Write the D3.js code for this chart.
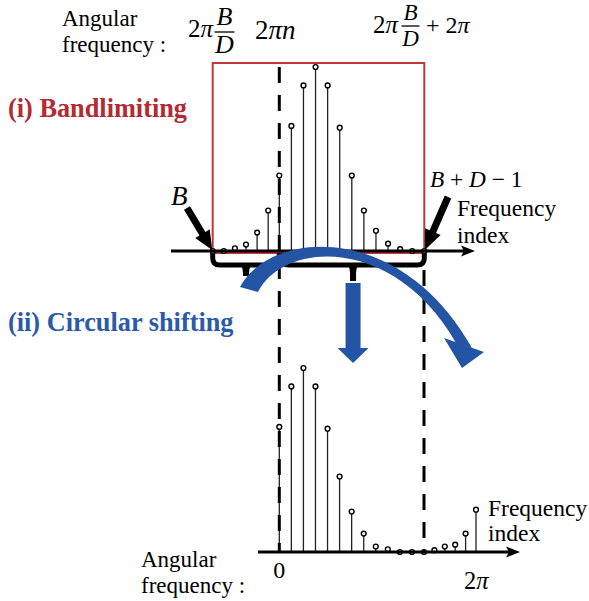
<!DOCTYPE html>
<html>
<head>
<meta charset="utf-8">
<script src="https://cdn.jsdelivr.net/npm/d3@7/dist/d3.min.js"></script>
<style>
    body { margin: 0; background: #fff; }
    svg { display: block; }
</style>
</head>
<body>
<svg id="shift-vis"></svg>
<script>
// spectrum before shifting (frequency index B .. B+D-1), relative amplitude
const TOP_VALUES = [0, 0, 1.5, 3.5, 10, 22, 41, 68, 90, 100, 90, 67, 41, 22, 11, 4, 1, 0, 0];
// spectrum after circular shifting
const BOTTOM_VALUES = [68, 90, 100, 90, 67, 41, 22, 10, 3, 1.5, 0, 0, 0, 1, 3, 4, 10, 23];
// index of the sample that sits at 2*pi*n (top) and at 2*pi (bottom)
const TOP_MARK_INDEX = 6;
const BOTTOM_MARK_INDEX = 12;
const BOTTOM_TICK_LABELS = ['0', '2π'];

const WIDTH = 589;
const HEIGHT = 601;
const FONT = '"Liberation Serif", "Times New Roman", serif';
const RED = '#c1373d';
const RED_TEXT = '#b42a30';
const BLUE = '#2455a4';
const BLUE_TEXT = '#2b5aa8';

const TOP_AXIS_Y = 251;
const BOTTOM_AXIS_Y = 552;

const root = d3.select('#shift-vis')
    .attr('width', WIDTH)
    .attr('height', HEIGHT)
    .attr('viewBox', `0 0 ${WIDTH} ${HEIGHT}`);

const xTop = d3.scaleLinear()
    .domain([0, TOP_MARK_INDEX, TOP_VALUES.length - 1])
    .range([212.7, 279.3, 424.3]);
const xBottom = d3.scaleLinear()
    .domain([0, BOTTOM_MARK_INDEX, BOTTOM_VALUES.length - 1])
    .range([279.3, 424, 476]);
const yAmp = d3.scaleLinear().domain([0, 100]).range([0, 184]);

function attrs(sel, obj) {
    Object.keys(obj).forEach(k => sel.attr(k, obj[k]));
    return sel;
}

function text(str, x, y, opts) {
    opts = opts || {};
    return attrs(root.append('text').text(str), {
        x: x,
        y: y,
        'font-family': FONT,
        'font-size': opts.size || 23,
        'font-style': opts.italic ? 'italic' : 'normal',
        'font-weight': opts.bold ? 'bold' : 'normal',
        'text-anchor': opts.anchor || 'start',
        fill: opts.fill || '#000'
    });
}

function arrowPoints(x1, y1, x2, y2, shaftW, headL, headW) {
    const dx = x2 - x1, dy = y2 - y1;
    const len = Math.hypot(dx, dy);
    const ux = dx / len, uy = dy / len;
    const nx = -uy, ny = ux;
    const bx = x2 - ux * headL, by = y2 - uy * headL;
    return [
        [x1 + nx * shaftW / 2, y1 + ny * shaftW / 2],
        [bx + nx * shaftW / 2, by + ny * shaftW / 2],
        [bx + nx * headW / 2, by + ny * headW / 2],
        [x2, y2],
        [bx - nx * headW / 2, by - ny * headW / 2],
        [bx - nx * shaftW / 2, by - ny * shaftW / 2],
        [x1 - nx * shaftW / 2, y1 - ny * shaftW / 2]
    ].map(p => p.join(',')).join(' ');
}

drawBandBox();
drawStems(TOP_VALUES, xTop, TOP_AXIS_Y);
drawStems(BOTTOM_VALUES, xBottom, BOTTOM_AXIS_Y);
drawAxes();
drawDashed();
drawBrackets();
drawLabels();
drawBlueArrows();

function drawBandBox() {
    attrs(root.append('rect'), {
        x: xTop(0),
        y: 63,
        width: xTop(TOP_VALUES.length - 1) - xTop(0),
        height: TOP_AXIS_Y + 2 - 63,
        fill: 'none',
        stroke: RED,
        'stroke-width': 2
    });
}

function drawStems(values, x, axisY) {
    const g = root.append('g');
    values.forEach((v, i) => {
        attrs(g.append('line'), {
            x1: x(i), x2: x(i),
            y1: axisY, y2: axisY - yAmp(v),
            stroke: '#222',
            'stroke-width': 1.3
        });
    });
    values.forEach((v, i) => {
        attrs(g.append('circle'), {
            cx: x(i),
            cy: axisY - yAmp(v),
            r: 2.4,
            fill: '#fff',
            stroke: '#000',
            'stroke-width': 1.4
        });
    });
}

function drawAxes() {
    [[171, 475, TOP_AXIS_Y], [258, 520, BOTTOM_AXIS_Y]].forEach(([x0, x1, y]) => {
        attrs(root.append('line'), {
            x1: x0, x2: x1 - 10, y1: y, y2: y,
            stroke: '#000', 'stroke-width': 3
        });
        attrs(root.append('polygon'), {
            points: `${x1},${y} ${x1 - 14},${y - 5.5} ${x1 - 11},${y} ${x1 - 14},${y + 5.5}`,
            fill: '#000'
        });
    });
}

function drawDashed() {
    const xl = xTop(TOP_MARK_INDEX);
    const xr = xBottom(BOTTOM_MARK_INDEX);
    [[xl, 67, BOTTOM_AXIS_Y], [xr, 270, BOTTOM_AXIS_Y]].forEach(([x, y0, y1]) => {
        attrs(root.append('line'), {
            x1: x, x2: x, y1: y0, y2: y1,
            stroke: '#000',
            'stroke-width': 3,
            'stroke-dasharray': '16,12'
        });
    });
}

function drawBrackets() {
    const r = 7;
    const yMid = 265;
    const yEnd = 253;
    const spans = [
        [xTop(0), xTop(TOP_MARK_INDEX), 276],
        [xTop(TOP_MARK_INDEX) + 2.5, xTop(TOP_VALUES.length - 1), 281]
    ];
    spans.forEach(([x0, x1, tickY]) => {
        const xc = (x0 + x1) / 2;
        attrs(root.append('path'), {
            d: `M${x0},${yEnd} L${x0},${yMid - r} Q${x0},${yMid} ${x0 + r},${yMid}` +
               ` L${x1 - r},${yMid} Q${x1},${yMid} ${x1},${yMid - r} L${x1},${yEnd}`,
            fill: 'none',
            stroke: '#000',
            'stroke-width': 5
        });
        attrs(root.append('path'), {
            d: `M${xc - 5},${yMid} Q${xc - 3},${yMid + 4} ${xc - 3},${yMid + 8} L${xc - 3},${tickY}` +
               ` L${xc + 3},${tickY} L${xc + 3},${yMid + 8} Q${xc + 3},${yMid + 4} ${xc + 5},${yMid} Z`,
            fill: '#000'
        });
    });
    // pointers to B and B+D-1
    attrs(root.append('polygon'), {
        points: arrowPoints(187, 208, xTop(0) - 0.5, TOP_AXIS_Y - 1, 7, 19, 17),
        fill: '#000'
    });
    attrs(root.append('polygon'), {
        points: arrowPoints(448, 197, xTop(TOP_VALUES.length - 1) + 0.5, TOP_AXIS_Y - 1, 7, 20, 17),
        fill: '#000'
    });
}

function drawBlueArrows() {
    // curved arrow (circular shift)
    attrs(root.append('path'), {
        d: 'M240,287 C270,230 400,220 472,348 L456,343 C395,236 285,240 258,292 Z',
        fill: BLUE
    });
    attrs(root.append('polygon'), {
        points: '444,338 484,352 462,368',
        fill: BLUE
    });
    // straight down arrow
    const xc = (xTop(TOP_MARK_INDEX) + 2.5 + xTop(TOP_VALUES.length - 1)) / 2;
    attrs(root.append('polygon'), {
        points: arrowPoints(xc, 283, xc, 363, 15, 15, 31),
        fill: BLUE
    });
}

function fraction(xc, yBar, halfW, size, up, down) {
    attrs(root.append('line'), {
        x1: xc - halfW, x2: xc + halfW, y1: yBar, y2: yBar,
        stroke: '#000', 'stroke-width': 1.3
    });
    text('B', xc, yBar - up, { italic: true, anchor: 'middle', size: size });
    text('D', xc, yBar + down, { italic: true, anchor: 'middle', size: size });
}

function twoPi(x, y, size) {
    const t = text('2', x, y, { size: size });
    t.append('tspan').attr('font-style', 'italic').text('π');
    return t;
}

function drawLabels() {
    // top angular frequency
    text('Angular', 62, 26);
    text('frequency :', 62, 52);
    twoPi(188, 37, 25);
    fraction(224.5, 32, 10, 26, 7, 21);
    twoPi(255, 39, 27).append('tspan').attr('font-style', 'italic').text('n');
    twoPi(373, 33, 25);
    fraction(410.5, 26, 9, 23, 6, 20);
    const plus = text('+ ', 426, 33, { size: 24 });
    plus.append('tspan').text('2');
    plus.append('tspan').attr('font-style', 'italic').text('π');

    text('(i) Bandlimiting', 8, 117, { bold: true, size: 26.3, fill: RED_TEXT });
    text('(ii) Circular shifting', 8, 331, { bold: true, size: 26.3, fill: BLUE_TEXT });

    text('B', 171, 205, { italic: true, size: 27 });
    const bd = text('B', 430, 187, { italic: true, size: 23.3 });
    bd.append('tspan').attr('font-style', 'normal').text(' + ');
    bd.append('tspan').text('D');
    bd.append('tspan').attr('font-style', 'normal').text(' − 1');

    text('Frequency', 457, 216, { size: 23.5 });
    text('index', 457, 243, { size: 23.5 });
    text('Frequency', 488, 516, { size: 23.5 });
    text('index', 488, 541, { size: 23.5 });

    text('Angular', 141, 567);
    text('frequency :', 141, 593);
    text(BOTTOM_TICK_LABELS[0], xBottom(0), 578, { anchor: 'middle', size: 24 });
    const tp = text('2', 464, 589, { size: 24.5 });
    tp.append('tspan').attr('font-style', 'italic').text(BOTTOM_TICK_LABELS[1].slice(1));
}
</script>
</body>
</html>
